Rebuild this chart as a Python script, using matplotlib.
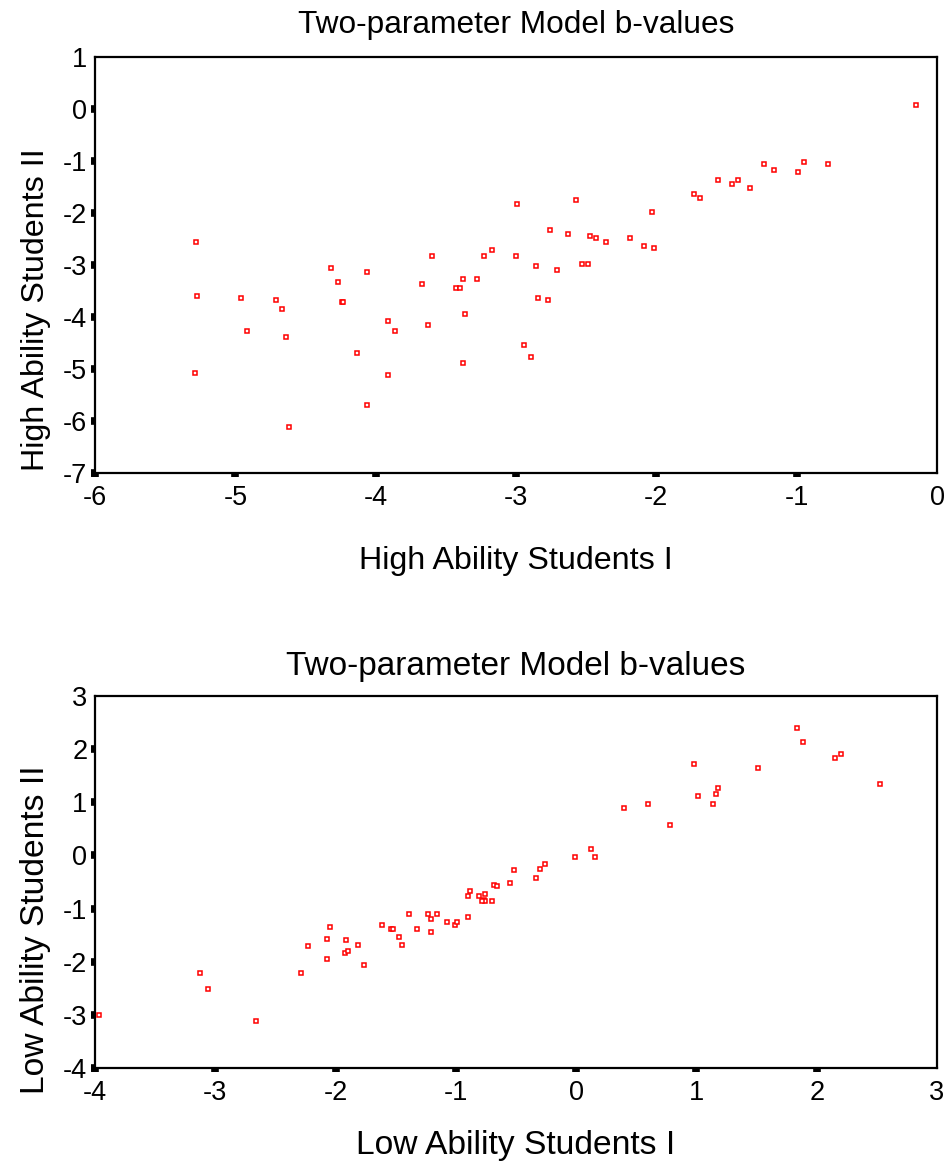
import matplotlib
matplotlib.use("Agg")
import matplotlib.pyplot as plt

plt.rcParams['font.family'] = ['Liberation Sans', 'DejaVu Sans']

# b-value estimates, high ability group (calibration I vs II)
hi_x = [-5.28, -5.27, -5.29, -4.96, -4.92, -4.71, -4.67, -4.64, -4.62, -4.32,
        -4.27, -4.24, -4.23, -4.13, -4.06, -4.06, -3.91, -3.91, -3.86, -3.67,
        -3.63, -3.60, -3.43, -3.40, -3.38, -3.38, -3.36, -3.28, -3.23, -3.17,
        -3.00, -2.99, -2.94, -2.89, -2.86, -2.84, -2.77, -2.76, -2.71, -2.63,
        -2.57, -2.53, -2.49, -2.47, -2.43, -2.36, -2.19, -2.09, -2.03, -2.02,
        -1.73, -1.69, -1.56, -1.46, -1.42, -1.33, -1.23, -1.16, -0.99, -0.95,
        -0.78, -0.15]
hi_y = [-2.56, -3.60, -5.07, -3.64, -4.26, -3.68, -3.84, -4.38, -6.12, -3.06,
        -3.33, -3.72, -3.72, -4.69, -3.14, -5.69, -4.07, -5.11, -4.26, -3.37,
        -4.15, -2.83, -3.45, -3.45, -3.26, -4.88, -3.95, -3.26, -2.83, -2.71,
        -2.83, -1.83, -4.53, -4.76, -3.02, -3.64, -3.68, -2.33, -3.10, -2.41,
        -1.75, -2.99, -2.99, -2.44, -2.48, -2.56, -2.48, -2.64, -1.98, -2.68,
        -1.63, -1.71, -1.36, -1.44, -1.36, -1.52, -1.05, -1.17, -1.21, -1.01,
        -1.05, 0.07]

# b-value estimates, low ability group (calibration I vs II)
lo_x = [-3.97, -3.13, -3.06, -2.66, -2.29, -2.23, -2.07, -2.07, -2.05, -1.91,
        -1.92, -1.90, -1.81, -1.76, -1.61, -1.54, -1.52, -1.47, -1.45, -1.39,
        -1.32, -1.23, -1.21, -1.16, -1.21, -1.07, -1.01, -0.99, -0.90, -0.90,
        -0.88, -0.81, -0.76, -0.77, -0.76, -0.78, -0.70, -0.68, -0.66, -0.55,
        -0.52, -0.33, -0.30, -0.26, -0.01, 0.12, 0.16, 0.40, 0.60, 0.78,
        0.98, 1.01, 1.14, 1.16, 1.18, 1.51, 1.84, 1.89, 2.15, 2.20, 2.53]
lo_y = [-3.00, -2.21, -2.51, -3.11, -2.21, -1.71, -1.94, -1.57, -1.34, -1.60,
        -1.83, -1.79, -1.68, -2.06, -1.30, -1.38, -1.38, -1.53, -1.68, -1.11,
        -1.38, -1.11, -1.19, -1.11, -1.45, -1.26, -1.30, -1.26, -1.15, -0.77,
        -0.66, -0.77, -0.72, -0.83, -0.85, -0.86, -0.85, -0.55, -0.58, -0.51,
        -0.28, -0.43, -0.25, -0.17, -0.02, 0.13, -0.02, 0.89, 0.96, 0.58,
        1.72, 1.11, 0.96, 1.15, 1.26, 1.64, 2.40, 2.13, 1.83, 1.91, 1.34]

title_text = "Two-parameter Model b-values"
hi_xlabel = "High Ability Students I"
hi_ylabel = "High Ability Students II"
lo_xlabel = "Low Ability Students I"
lo_ylabel = "Low Ability Students II"

hi_xticks = [-6, -5, -4, -3, -2, -1, 0]
hi_yticks = [-7, -6, -5, -4, -3, -2, -1, 0, 1]
lo_xticks = [-4, -3, -2, -1, 0, 1, 2, 3]
lo_yticks = [-4, -3, -2, -1, 0, 1, 2, 3]

fig = plt.figure(figsize=(9.48, 11.69), dpi=100)
ax1 = fig.add_axes([0.1002, 0.5954, 0.8882, 0.3558])
ax2 = fig.add_axes([0.1002, 0.0864, 0.8882, 0.3182])


def style(ax, xticks, yticks, title, xlabel, ylabel, tsize, lsize,
          title_pad, xl_y, yl_y):
    ax.set_xlim(xticks[0], xticks[-1])
    ax.set_ylim(yticks[0], yticks[-1])
    ax.set_xticks(xticks)
    ax.set_yticks(yticks)
    ax.set_xticklabels([str(t) for t in xticks])
    ax.set_yticklabels([str(t) for t in yticks])
    for s in ax.spines.values():
        s.set_linewidth(1.6)
    ax.tick_params(direction='out', length=3, width=5.5, labelsize=19.5,
                   colors='black')
    ax.tick_params(axis='x', pad=5.5)
    ax.tick_params(axis='y', pad=2.5)
    ax.xaxis.get_major_ticks()[-1].tick1line.set_visible(False)
    ax.yaxis.get_major_ticks()[-1].tick1line.set_visible(False)
    ax.set_title(title, fontsize=tsize, pad=title_pad)
    ax.set_xlabel(xlabel, fontsize=lsize)
    ax.set_ylabel(ylabel, fontsize=lsize)
    ax.xaxis.set_label_coords(0.5, xl_y)
    ax.yaxis.set_label_coords(-0.052, yl_y)


marker_style = dict(linestyle='none', marker='s', markersize=3.0,
                    markeredgewidth=1.1, markeredgecolor='#ff0000',
                    markerfacecolor='white', clip_on=False, zorder=3)
ax1.plot(hi_x, hi_y, **marker_style)
ax2.plot(lo_x, lo_y, **marker_style)

style(ax1, hi_xticks, hi_yticks, title_text, hi_xlabel, hi_ylabel,
      22.8, 23.2, 17, -0.176, 0.392)
style(ax2, lo_xticks, lo_yticks, title_text, lo_xlabel, lo_ylabel,
      24.0, 24.2, 15, -0.166, 0.371)

fig.savefig("out.png", dpi=100)
